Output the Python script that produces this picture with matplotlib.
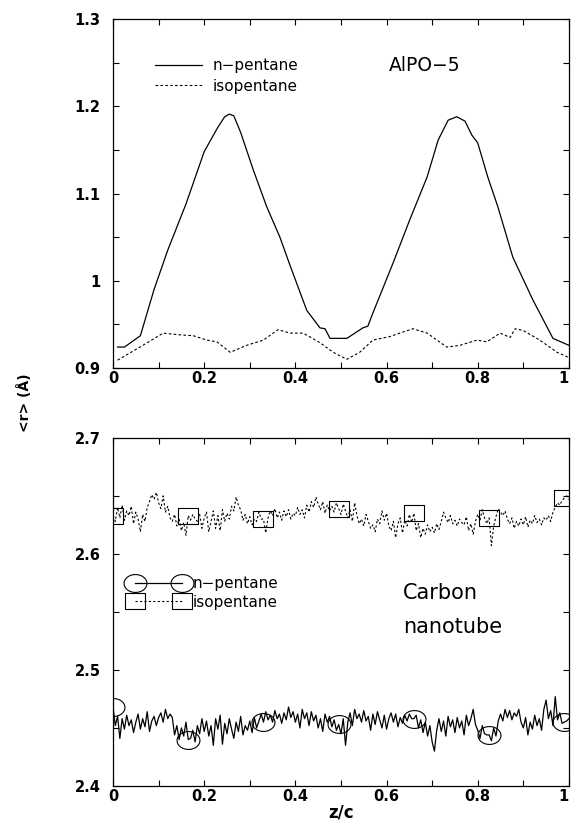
import numpy as np
import matplotlib
matplotlib.use("Agg")
import matplotlib.pyplot as plt
from matplotlib.path import Path
from matplotlib.ticker import MultipleLocator, FixedLocator

# ---------------- data ----------------
# Top panel: AlPO-5
alpo_n_z = [0.01, 0.025, 0.06, 0.09, 0.12, 0.16, 0.2, 0.23, 0.245, 0.255, 0.265, 0.28, 0.307,
            0.337, 0.366, 0.388, 0.425, 0.454, 0.465, 0.476, 0.513, 0.548, 0.559, 0.57, 0.614,
            0.651, 0.689, 0.713, 0.735, 0.754, 0.772, 0.787, 0.8, 0.822, 0.844, 0.877, 0.921,
            0.965, 1.0]
alpo_n_r = [0.924, 0.924, 0.937, 0.99, 1.035, 1.088, 1.148, 1.176, 1.188, 1.191, 1.189, 1.17, 1.128,
            1.085, 1.05, 1.018, 0.966, 0.946, 0.945, 0.934, 0.934, 0.946, 0.948, 0.963, 1.02,
            1.07, 1.119, 1.161, 1.184, 1.188, 1.183, 1.167, 1.158, 1.119, 1.085, 1.027, 0.978,
            0.934, 0.926]

alpo_iso_z = [0.01, 0.059, 0.11, 0.147, 0.176, 0.206, 0.228, 0.257, 0.293, 0.33, 0.362, 0.388,
              0.417, 0.454, 0.483, 0.513, 0.541, 0.57, 0.607, 0.629, 0.658, 0.689, 0.732, 0.761,
              0.798, 0.82, 0.849, 0.871, 0.882, 0.9, 0.936, 0.974, 1.0]
alpo_iso_r = [0.909, 0.924, 0.94, 0.938, 0.937, 0.932, 0.93, 0.918, 0.926, 0.932, 0.944, 0.94,
              0.94, 0.929, 0.918, 0.91, 0.918, 0.932, 0.936, 0.94, 0.945, 0.94, 0.924, 0.926,
              0.932, 0.93, 0.94, 0.935, 0.945, 0.943, 0.932, 0.918, 0.912]

# Bottom panel: carbon nanotube (201 evenly spaced samples in z/c from 0 to 1)
cnt_n_r = [
    2.468, 2.452, 2.460, 2.441, 2.458, 2.449, 2.461, 2.452, 2.457, 2.446,
    2.455, 2.462, 2.449, 2.458, 2.451, 2.464, 2.447, 2.456, 2.460, 2.452,
    2.459, 2.463, 2.455, 2.466, 2.458, 2.462, 2.459, 2.444, 2.452, 2.440,
    2.450, 2.443, 2.455, 2.440, 2.441, 2.448, 2.438, 2.452, 2.445, 2.458,
    2.447, 2.456, 2.443, 2.452, 2.435, 2.458, 2.449, 2.461, 2.436, 2.454,
    2.445, 2.458, 2.449, 2.441, 2.455, 2.447, 2.460, 2.444, 2.452, 2.448,
    2.456, 2.446, 2.459, 2.450, 2.456, 2.462, 2.455, 2.464, 2.457, 2.461,
    2.455, 2.465, 2.458, 2.462, 2.454, 2.463, 2.457, 2.468, 2.459, 2.464,
    2.455, 2.462, 2.450, 2.466, 2.458, 2.463, 2.452, 2.464, 2.456, 2.461,
    2.450, 2.458, 2.447, 2.462, 2.455, 2.460, 2.451, 2.457, 2.448, 2.453,
    2.445, 2.458, 2.435, 2.455, 2.463, 2.452, 2.466, 2.458, 2.462, 2.455,
    2.465, 2.456, 2.460, 2.448, 2.462, 2.453, 2.464, 2.457, 2.450, 2.461,
    2.449, 2.458, 2.463, 2.455, 2.462, 2.451, 2.459, 2.454, 2.461, 2.456,
    2.462, 2.458, 2.458, 2.461, 2.450, 2.457, 2.446, 2.455, 2.443, 2.452,
    2.438, 2.430, 2.448, 2.458, 2.447, 2.456, 2.443, 2.460, 2.451, 2.457,
    2.446, 2.459, 2.450, 2.456, 2.444, 2.461, 2.452, 2.458, 2.466, 2.453,
    2.448, 2.441, 2.452, 2.445, 2.444, 2.444, 2.439, 2.450, 2.443, 2.456,
    2.462, 2.456, 2.466, 2.459, 2.465, 2.457, 2.463, 2.460, 2.466, 2.455,
    2.450, 2.459, 2.444, 2.455, 2.449, 2.461, 2.452, 2.458, 2.448, 2.466,
    2.474, 2.458, 2.465, 2.452, 2.477, 2.457, 2.463, 2.454, 2.455, 2.456,
    2.458]

cnt_iso_r = [
    2.633, 2.628, 2.640, 2.631, 2.642, 2.629, 2.637, 2.633, 2.641, 2.626,
    2.636, 2.630, 2.619, 2.634, 2.628, 2.640, 2.645, 2.651, 2.647, 2.653,
    2.644, 2.639, 2.650, 2.636, 2.641, 2.631, 2.628, 2.634, 2.624, 2.630,
    2.620, 2.627, 2.616, 2.633, 2.629, 2.634, 2.630, 2.628, 2.634, 2.622,
    2.631, 2.636, 2.619, 2.628, 2.637, 2.622, 2.633, 2.620, 2.638, 2.628,
    2.635, 2.630, 2.641, 2.637, 2.649, 2.642, 2.638, 2.629, 2.634, 2.626,
    2.632, 2.625, 2.630, 2.628, 2.636, 2.630, 2.630, 2.618, 2.631, 2.637,
    2.633, 2.639, 2.631, 2.636, 2.629, 2.637, 2.632, 2.638, 2.630, 2.635,
    2.633, 2.640, 2.634, 2.638, 2.631, 2.642, 2.636, 2.645, 2.640, 2.649,
    2.643, 2.638, 2.645, 2.635, 2.642, 2.637, 2.641, 2.636, 2.644, 2.639,
    2.634, 2.643, 2.637, 2.631, 2.638, 2.628, 2.644, 2.633, 2.626, 2.630,
    2.624, 2.634, 2.628, 2.622, 2.625, 2.619, 2.630, 2.626, 2.637, 2.629,
    2.635, 2.624, 2.620, 2.628, 2.614, 2.626, 2.631, 2.618, 2.629, 2.624,
    2.634, 2.627, 2.635, 2.620, 2.626, 2.614, 2.622, 2.617, 2.625, 2.619,
    2.623, 2.618, 2.626, 2.621, 2.628, 2.636, 2.631, 2.627, 2.633, 2.626,
    2.629, 2.624, 2.630, 2.627, 2.625, 2.632, 2.620, 2.626, 2.617, 2.628,
    2.634, 2.629, 2.638, 2.631, 2.626, 2.631, 2.607, 2.624, 2.632, 2.639,
    2.636, 2.633, 2.637, 2.630, 2.626, 2.631, 2.622, 2.628, 2.624, 2.630,
    2.625, 2.632, 2.623, 2.629, 2.626, 2.633, 2.627, 2.630, 2.625, 2.631,
    2.629, 2.633, 2.628, 2.636, 2.640, 2.644, 2.642, 2.646, 2.648, 2.650,
    2.647]
cnt_z = np.linspace(0.0, 1.0, len(cnt_n_r))

x_ticks = [0, 0.2, 0.4, 0.6, 0.8, 1.0]
x_ticklabels = ["0", "0.2", "0.4", "0.6", "0.8", "1"]
top_yticks = [0.9, 1.0, 1.1, 1.2, 1.3]
top_yticklabels = ["0.9", "1", "1.1", "1.2", "1.3"]
bot_yticks = [2.4, 2.5, 2.6, 2.7]
bot_yticklabels = ["2.4", "2.5", "2.6", "2.7"]

# ---------------- markers ----------------
t = np.linspace(0, 2 * np.pi, 60)
ellipse = Path(np.column_stack([np.cos(t), 0.78 * np.sin(t)]), closed=True)
rect = Path([(-1, -0.79), (1, -0.79), (1, 0.79), (-1, 0.79), (-1, -0.79)], closed=True)

plt.rcParams['font.family'] = ['DejaVu Sans']
fig = plt.figure(figsize=(5.72, 8.27), dpi=100)
ax1 = fig.add_axes([0.1976, 0.555, 0.797, 0.422])
ax2 = fig.add_axes([0.1976, 0.0496, 0.797, 0.421])

for ax in (ax1, ax2):
    ax.set_xlim(0, 1)
    ax.xaxis.set_major_locator(FixedLocator(x_ticks))
    ax.set_xticklabels(x_ticklabels)
    ax.xaxis.set_minor_locator(MultipleLocator(0.1))
    ax.yaxis.set_minor_locator(MultipleLocator(0.05))
    ax.tick_params(which='both', direction='in', top=True, right=True, length=4, width=0.8)
    ax.tick_params(axis='x', pad=2)
    ax.tick_params(axis='y', pad=9)
    for s in ax.spines.values():
        s.set_linewidth(0.9)

# top
ax1.plot(alpo_n_z, alpo_n_r, color='black', lw=0.9, label='n\u2212pentane')
ax1.plot(alpo_iso_z, alpo_iso_r, color='black', lw=0.8, dashes=(2.4, 2.0), label='isopentane')
ax1.set_ylim(0.9, 1.3)
ax1.yaxis.set_major_locator(FixedLocator(top_yticks))
ax1.set_yticklabels(top_yticklabels)
ax1.legend(loc='center left', bbox_to_anchor=(0.092, 0.8367), frameon=False, fontsize=11,
           borderpad=0, borderaxespad=0, handlelength=3.1, handletextpad=0.7, labelspacing=0.35)
ax1.text(0.605, 0.868, 'AlPO\u22125', transform=ax1.transAxes, fontsize=13.5, va='center', ha='left')

# bottom
ax2.plot(cnt_z, cnt_n_r, color='black', lw=0.9, marker=ellipse, markevery=33, markersize=16.5,
         markerfacecolor='none', markeredgecolor='black', markeredgewidth=0.8, label='n\u2212pentane')
ax2.plot(cnt_z, cnt_iso_r, color='black', lw=0.8, dashes=(2.0, 2.0), marker=rect, markevery=33,
         markersize=14, markerfacecolor='none', markeredgecolor='black', markeredgewidth=0.8,
         label='isopentane')
ax2.set_ylim(2.4, 2.7)
ax2.yaxis.set_major_locator(FixedLocator(bot_yticks))
ax2.set_yticklabels(bot_yticklabels)
ax2.legend(loc='center left', bbox_to_anchor=(0.038, 0.5546), frameon=False, fontsize=11,
           numpoints=2, borderpad=0, borderaxespad=0, handlelength=3.67, handletextpad=0.42,
           labelspacing=0.25)
ax2.text(0.636, 0.555, 'Carbon', transform=ax2.transAxes, fontsize=15, va='center', ha='left')
ax2.text(0.636, 0.457, 'nanotube', transform=ax2.transAxes, fontsize=15, va='center', ha='left')

for ax in (ax1, ax2):
    for lab in ax.get_xticklabels() + ax.get_yticklabels():
        lab.set_fontweight('bold')
        lab.set_fontsize(10.5)
    ax.get_xticklabels()[-1].set_horizontalalignment('right')

fig.text(0.0437, 0.5127, '<r> (\u00c5)', rotation=90, fontsize=10, fontweight='bold',
         ha='center', va='center')
fig.text(0.596, 0.017, 'z/c', fontsize=12, fontweight='bold', ha='center', va='center')

fig.savefig('out.png', dpi=100)
